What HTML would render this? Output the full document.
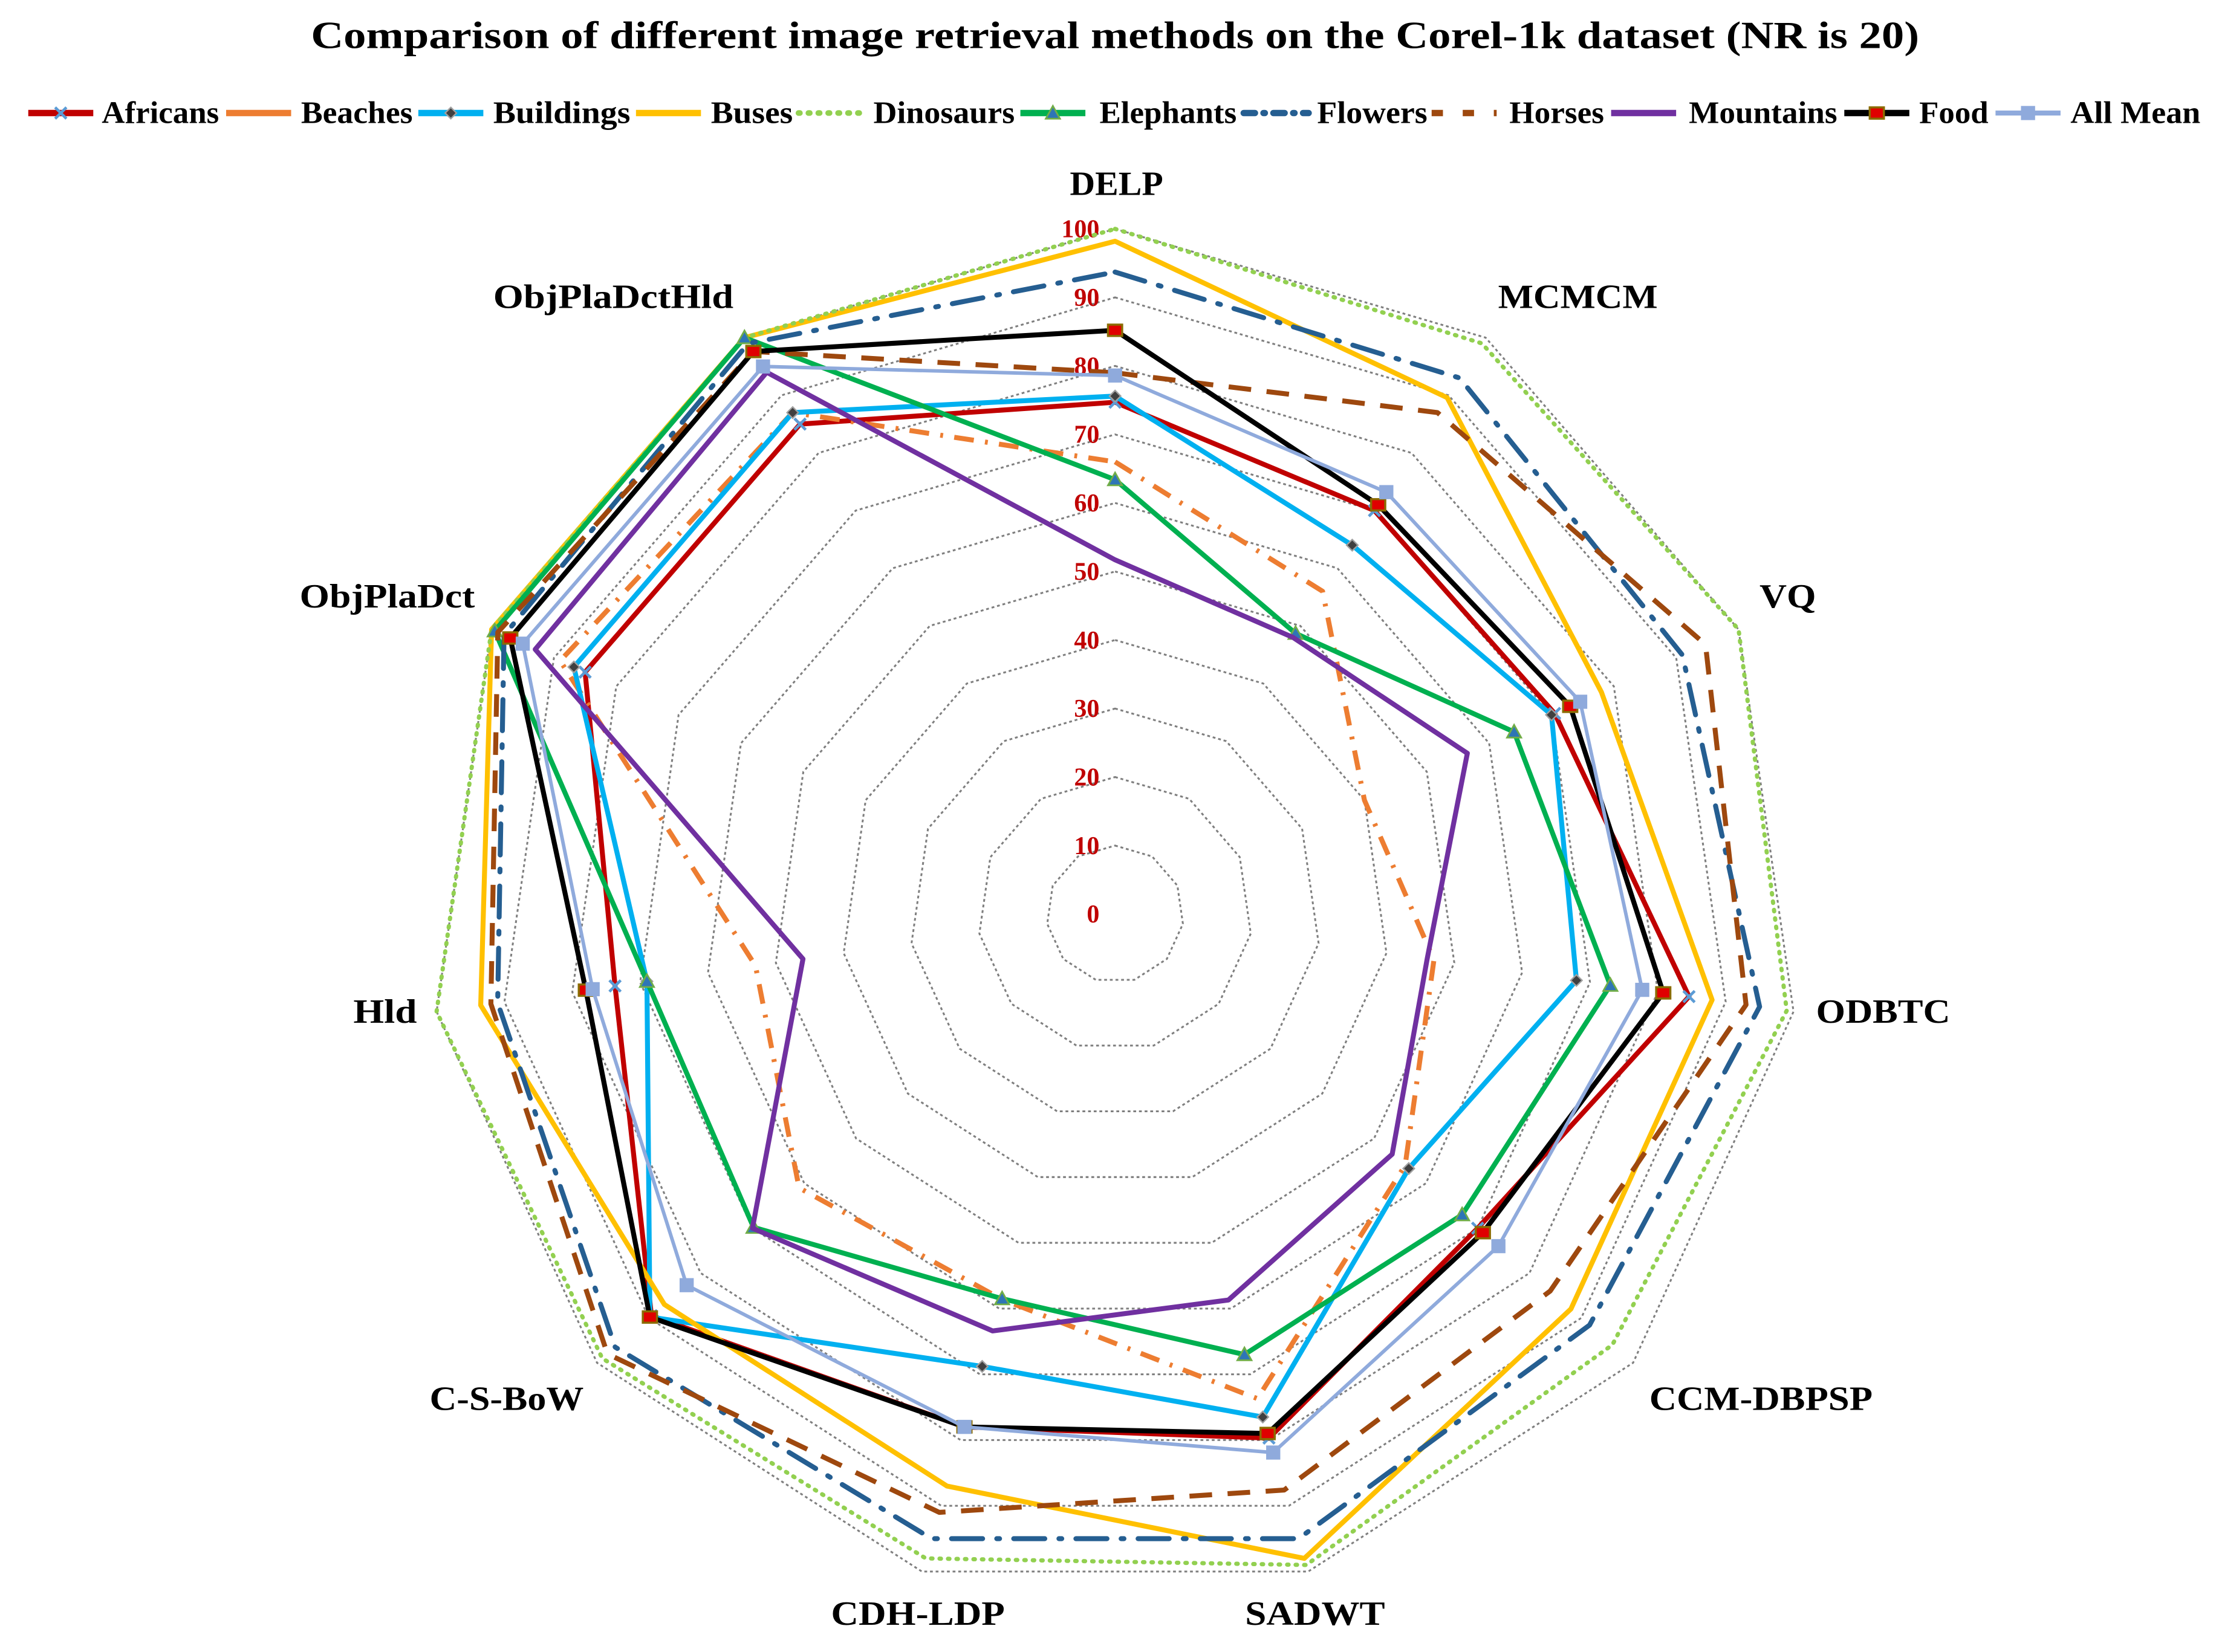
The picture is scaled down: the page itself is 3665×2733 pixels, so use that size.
<!DOCTYPE html>
<html><head><meta charset="utf-8"><style>
html,body{margin:0;padding:0;background:#fff;}
svg{display:block;}
text{font-family:"Liberation Serif",serif;}
</style></head><body>
<svg id="chart" xmlns="http://www.w3.org/2000/svg" width="3665" height="2733" viewBox="0 0 1568 1169.3" preserveAspectRatio="none">
<rect width="1568" height="1170" fill="#fff"/>
<text x="220" y="34" font-size="27" font-weight="bold" textLength="1138" lengthAdjust="spacingAndGlyphs">Comparison of different image retrieval methods on the Corel-1k dataset (NR is 20)</text>
<g id="grid"></g>
<g id="axisLabels"></g>
<g id="series"></g>
<g id="legend"></g>
</svg>
<script>
const categories = ["DELP","MCMCM","VQ","ODBTC","CCM-DBPSP","SADWT","CDH-LDP","C-S-BoW","Hld","ObjPlaDct","ObjPlaDctHld"];
const ticks = [0,10,20,30,40,50,60,70,80,90,100];
const seriesNames = ["Africans","Beaches","Buildings","Buses","Dinosaurs","Elephants","Flowers","Horses","Mountains","Food","All Mean"];
const africans  = [74.7,70,70.5,84.6,70,79.7,78,89.5,73.7,85,85];
const beaches   = [66,56,40,47,56,73.7,58.6,61,53,89,87];
const buildings = [75.6,64,70,68,56.7,76.5,68.8,89.8,69,86.8,87];
const buses     = [98.2,89.6,78,88,88,98,87,87,93.5,100,100];
const dinosaurs = [100,99,100,99,96,99,98,99,100,100,100];
const elephants = [63.4,48.7,64,73,67,67,58.5,69.8,69,99.5,100];
const flowers   = [93.7,93,91,95,91.6,95,95,96.5,91,98,99];
const horses    = [79,87,94.7,93,84,87.6,91,98,92,99,97.6];
const mountains = [51.7,48,56.5,46,53.5,58.7,63.4,70,46,93,94];
const food      = [85.2,71,73,80.8,71,79,78,89.8,78,97,97.6];
const allMean   = [78.6,73.2,74.6,77.7,74,81.9,78,82.7,77,95,95];

const NS="http://www.w3.org/2000/svg";
const cx=789, cy=647, R=485;
const N=categories.length;
function ang(i){return 2*Math.PI*i/N;}
function pt(i,v){const r=R*v/100;return [cx+r*Math.sin(ang(i)), cy-r*Math.cos(ang(i))];}
function mk(tag,attrs,parent){const e=document.createElementNS(NS,tag);for(const k in attrs)e.setAttribute(k,attrs[k]);parent.appendChild(e);return e;}

const grid=document.getElementById('grid');
ticks.forEach(t=>{
  if(t>0){
    const pts=categories.map((c,i)=>pt(i,t).join(',')).join(' ');
    const p=mk('polygon',{points:pts,fill:'none',stroke:'#7f7f7f','stroke-width':1.3,'stroke-dasharray':'2 2'},grid);
    
    
  }
  const lbl=mk('text',{x:778,y:cy-R*t/100+6,'text-anchor':'end','font-size':18,'font-weight':'bold',fill:'#C00000'},grid);
  lbl.textContent=t;
  
  
});
const labelPos=[[757,138,66],[1060,218,113],[1245,430,40],[1285,724,95],[1167,998,158],[881,1150,99],[588,1150,123],[304,998,109],[250,724,45],[212,430,124],[349,218,170]];
const al=document.getElementById('axisLabels');
categories.forEach((c,i)=>{
  const p=labelPos[i];
  const t=mk('text',{x:p[0],y:p[1],'font-size':24,'font-weight':'bold',fill:'#000',textLength:p[2],lengthAdjust:'spacingAndGlyphs'},al);
  t.textContent=c;
  
  
});

const styles=[
 {data:africans,color:'#C00000',w:3.5,dash:'',marker:'x'},
 {data:beaches,color:'#ED7D31',w:3.5,dash:'14 8 2 8',marker:''},
 {data:buildings,color:'#00B0F0',w:3.5,dash:'',marker:'diamond'},
 {data:buses,color:'#FFC000',w:3.5,dash:'',marker:''},
 {data:dinosaurs,color:'#92D050',w:3,dash:'1 5',marker:'',cap:'round'},
 {data:elephants,color:'#00B050',w:3.5,dash:'',marker:'tri'},
 {data:flowers,color:'#255E91',w:3.5,dash:'22 10 2 10',marker:'',cap:'round'},
 {data:horses,color:'#9E480E',w:3.5,dash:'16 11',marker:''},
 {data:mountains,color:'#7030A0',w:3.5,dash:'',marker:''},
 {data:food,color:'#000000',w:3.5,dash:'',marker:'square'},
 {data:allMean,color:'#8FAADC',w:2.5,dash:'',marker:'msq'}
];
function marker(type,x,y,g,color){
  let e;
  if(type==='x'){e=mk('path',{d:`M${x-4},${y-4}L${x+4},${y+4}M${x-4},${y+4}L${x+4},${y-4}`,stroke:'#5B9BD5','stroke-width':2},g);}
  else if(type==='diamond'){e=mk('polygon',{points:`${x},${y-4} ${x+4},${y} ${x},${y+4} ${x-4},${y}`,fill:'#404040',stroke:'#a0a0a0','stroke-width':1},g);}
  else if(type==='tri'){e=mk('polygon',{points:`${x},${y-5} ${x+5},${y+4} ${x-5},${y+4}`,fill:'#2E75B6',stroke:'#70AD47','stroke-width':1.2},g);}
  else if(type==='square'){e=mk('rect',{x:x-5,y:y-4,width:10,height:8,fill:'#E00000',stroke:'#8B6B00','stroke-width':1.5},g);}
  else if(type==='msq'){e=mk('rect',{x:x-5,y:y-5,width:10,height:10,fill:'#8FAADC'},g);}
  if(e){}
}
const sg=document.getElementById('series');
styles.forEach((s,k)=>{
  const g=mk('g',{},sg);
  
  
  const pts=s.data.map((v,i)=>pt(i,v).join(',')).join(' ');
  const p=mk('polygon',{points:pts,fill:'none',stroke:s.color,'stroke-width':s.w,'stroke-linejoin':'round','stroke-linecap':s.cap||'butt'},g);
  if(s.dash)p.setAttribute('stroke-dasharray',s.dash);
  
  
  if(s.marker)s.data.forEach((v,i)=>{const [x,y]=pt(i,v);marker(s.marker,x,y,g,s.color);});
});
const lg=document.getElementById('legend');
const lineX=[20,160,296,450,565,722,880,1013,1140,1305,1412];
const textX=[72,213,349,503,618,778,932,1068,1195,1358,1465];
const textW=[83,79,97,58,100,97,78,67,105,49,92];
const legDash=['','','','','1 6','','8 6 1 6','8 14','','',''];
styles.forEach((s,k)=>{
  const g=mk('g',{},lg);
  
  
  const x=lineX[k], y=80;
  const l=mk('line',{x1:x,y1:y,x2:x+46,y2:y,stroke:s.color,'stroke-width':s.w+1,'stroke-linecap':s.cap||'butt'},g);
  if(legDash[k])l.setAttribute('stroke-dasharray',legDash[k]);
  if(s.marker)marker(s.marker,x+23,y,g,s.color);
  const t=mk('text',{x:textX[k],y:y+7,'font-size':22,'font-weight':'bold',fill:'#000',textLength:textW[k],lengthAdjust:'spacingAndGlyphs'},g);
  t.textContent=seriesNames[k];
});
</script>
</body></html>
